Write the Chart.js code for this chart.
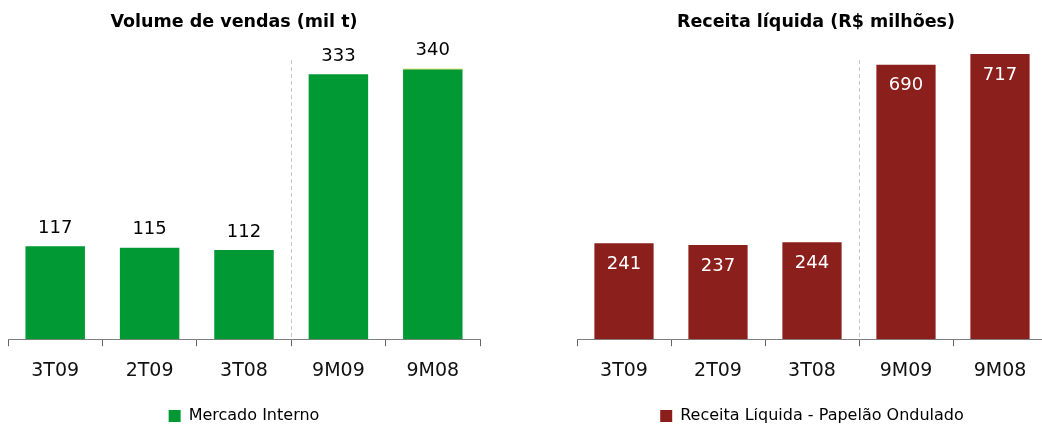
<!DOCTYPE html>
<html>
<head>
<meta charset="utf-8">
<script src="https://cdn.jsdelivr.net/npm/chart.js@4.4.0/dist/chart.umd.min.js"></script>
<style>
  html, body { margin: 0; padding: 0; background: #fff; overflow: hidden; }
  body { width: 1042px; height: 426px; position: relative; }
  .box { position: absolute; top: 0; height: 434px; }
  #left { left: 0; width: 488px; }
  #right { left: 569px; width: 486px; }
</style>
</head>
<body>
<div class="box" id="left"><canvas id="volumeChart"></canvas></div>
<div class="box" id="right"><canvas id="receitaChart"></canvas></div>
<script>
const periodos = ["3T09", "2T09", "3T08", "9M09", "9M08"];
const mercadoInterno = [117, 115, 112, 333, 339];
const mercadoExterno = [0, 0, 0, 0, 1];
const volumeTotal = [117, 115, 112, 333, 340];
const receitaLiquida = [241, 237, 244, 690, 717];

const FONT = "'DejaVu Sans', Verdana, sans-serif";

// titulo, separador tracejado e rótulos dos valores
const extras = {
  id: "extras",
  afterDatasetsDraw(chart, args, opts) {
    const { ctx, chartArea, scales } = chart;
    const x = scales.x, y = scales.y;
    ctx.save();

    ctx.font = "bold 17.5px " + FONT;
    ctx.fillStyle = "#000";
    ctx.textAlign = "center";
    ctx.textBaseline = "middle";
    ctx.fillText(opts.title, (chartArea.left + chartArea.right) / 2 + opts.titleShift, 22);

    const sx = Math.round((x.getPixelForValue(2) + x.getPixelForValue(3)) / 2) + 0.5;
    ctx.strokeStyle = "#c8c8c8";
    ctx.lineWidth = 1;
    ctx.setLineDash([4, 3]);
    ctx.beginPath();
    ctx.moveTo(sx, 60);
    ctx.lineTo(sx, chartArea.bottom);
    ctx.stroke();
    ctx.setLineDash([]);

    ctx.font = "18px " + FONT;
    opts.values.forEach((v, i) => {
      const px = x.getPixelForValue(i);
      const top = y.getPixelForValue(v);
      if (opts.inside) {
        ctx.fillStyle = "#fff";
        ctx.fillText(String(v), px, top + 21);
      } else {
        ctx.fillStyle = "#000";
        ctx.fillText(String(v), px, top - 18);
      }
    });
    ctx.restore();
  },
};

function baseOptions(max, title, titleShift, values, inside) {
  return {
    responsive: true,
    maintainAspectRatio: false,
    animation: false,
    layout: { padding: { top: 21, left: 8, right: 8, bottom: 0 } },
    plugins: {
      legend: {
        position: "bottom",
        labels: {
          font: { family: FONT, size: 16 },
          color: "#000",
          boxWidth: 12,
          boxHeight: 12,
          padding: 0,
          filter: (item) => item.text !== "Mercado Externo",
        },
      },
      title: { display: false },
      tooltip: { enabled: false },
      extras: { title: title, titleShift: titleShift, values: values, inside: inside },
    },
    scales: {
      x: {
        stacked: true,
        afterFit: (scale) => { scale.height += 13; },
        grid: {
          drawOnChartArea: false,
          drawTicks: true,
          tickLength: 7,
          color: "#666",
        },
        border: { color: "#808080", width: 1 },
        ticks: {
          font: { family: FONT, size: 19 },
          color: "#111",
          padding: 13,
        },
      },
      y: {
        stacked: true,
        display: false,
        min: 0,
        max: max,
      },
    },
  };
}

new Chart(document.getElementById("volumeChart"), {
  type: "bar",
  data: {
    labels: periodos,
    datasets: [
      {
        label: "Mercado Interno",
        data: mercadoInterno,
        backgroundColor: "#009933",
        barPercentage: 0.63,
        categoryPercentage: 1,
      },
      {
        label: "Mercado Externo",
        data: mercadoExterno,
        backgroundColor: "#c8c800",
        barPercentage: 0.63,
        categoryPercentage: 1,
      },
    ],
  },
  options: baseOptions(400, "Volume de vendas (mil t)", -10, volumeTotal, false),
  plugins: [extras],
});

new Chart(document.getElementById("receitaChart"), {
  type: "bar",
  data: {
    labels: periodos,
    datasets: [
      {
        label: "Receita Líquida - Papelão Ondulado",
        data: receitaLiquida,
        backgroundColor: "#8b1f1b",
        barPercentage: 0.63,
        categoryPercentage: 1,
      },
    ],
  },
  options: baseOptions(800, "Receita líquida (R$ milhões)", 4, receitaLiquida, true),
  plugins: [extras],
});
</script>
</body>
</html>
